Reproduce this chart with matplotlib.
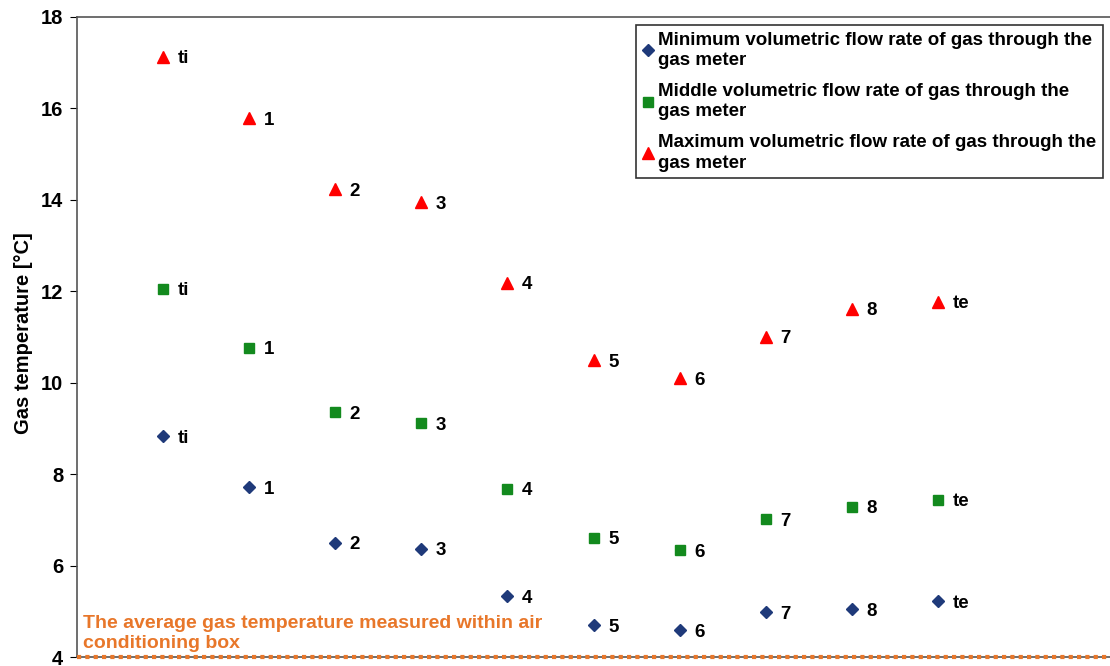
import numpy as np
import matplotlib.pyplot as plt

plt.rcParams['font.family'] = ['Liberation Sans', 'DejaVu Sans']
plt.rcParams['font.weight'] = 'bold'

points = ["ti", "1", "2", "3", "4", "5", "6", "7", "8", "te"]
t_min = [8.83, 7.72, 6.50, 6.37, 5.33, 4.70, 4.59, 4.98, 5.05, 5.22]
t_mid = [12.06, 10.77, 9.36, 9.12, 7.68, 6.61, 6.33, 7.01, 7.29, 7.44]
t_max = [17.13, 15.78, 14.23, 13.95, 12.19, 10.49, 10.10, 11.01, 11.62, 11.77]
box_temp = 4.0

x = np.arange(1, len(points) + 1)

fig = plt.figure(figsize=(11.1, 6.66), dpi=100)
ax = fig.add_axes([0.0694, 0.0135, 0.9306, 0.961])

series = [
    (t_min, "D", "#1F3A7A", 6.5, "Minimum volumetric flow rate of gas through the\ngas meter"),
    (t_mid, "s", "#138A1E", 7.5, "Middle volumetric flow rate of gas through the\ngas meter"),
    (t_max, "^", "#FF0000", 9, "Maximum volumetric flow rate of gas through the\ngas meter"),
]
for vals, mk, col, ms, lab in series:
    ax.plot(x, vals, linestyle="none", marker=mk, color=col, markersize=ms, label=lab)
    for xi, yi, name in zip(x, vals, points):
        ax.annotate(name, (xi, yi), xytext=(10.5, -1.5), textcoords="offset points",
                    ha="left", va="center", fontsize=13.5, fontweight="bold", color="black")

ax.axhline(box_temp, color="#E8772A", linestyle=(0, (1, 1)), linewidth=3, clip_on=False, zorder=3)
ax.text(0.07, 4.1, "The average gas temperature measured within air\nconditioning box",
        color="#E8772A", fontsize=14, fontweight="bold", ha="left", va="bottom",
        linespacing=1.3)

ax.set_xlim(0, 12)
ax.set_ylim(4, 18)
ax.set_yticks(np.arange(4, 19, 2))
ax.set_xticks([])
ax.tick_params(axis="y", direction="out", length=5, labelsize=14.5, pad=5)
for lbl in ax.get_yticklabels():
    lbl.set_fontweight("bold")
fig.text(0.021, 0.5, "Gas temperature [°C]", rotation=90, fontsize=14.5, fontweight="bold",
         ha="center", va="center")
ax.spines["right"].set_visible(False)
for s in ["left", "top", "bottom"]:
    ax.spines[s].set_color("#555555")
    ax.spines[s].set_linewidth(1.2)

leg = ax.legend(loc="upper right", bbox_to_anchor=(0.9965, 0.993), fontsize=13.5, frameon=True,
                fancybox=False, edgecolor="black", handlelength=0.5, handletextpad=0.3,
                borderpad=0.35, labelspacing=0.75, markerscale=0.9, borderaxespad=0.2)
leg.get_frame().set_linewidth(1.2)
for t in leg.get_texts():
    t.set_linespacing(1.25)

fig.savefig("out.png", dpi=100)
